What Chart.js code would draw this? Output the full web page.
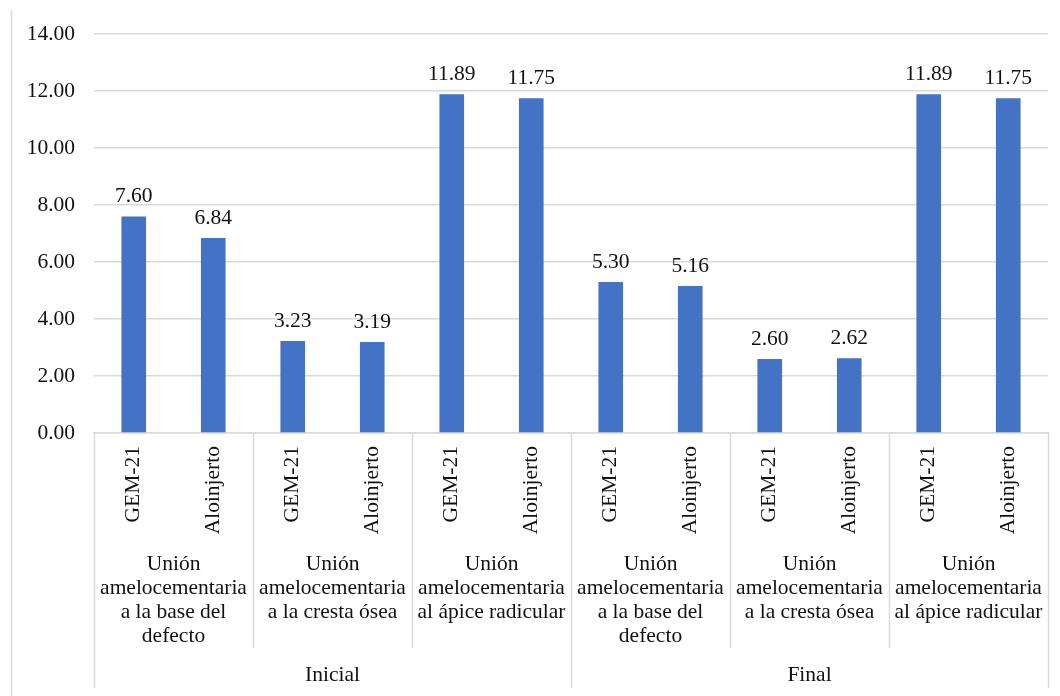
<!DOCTYPE html>
<html>
<head>
<meta charset="utf-8">
<script src="https://cdn.jsdelivr.net/npm/chart.js@4"></script>
<style>
	html, body { margin: 0; padding: 0; background: #fff; }
	#grafico { display: block; }
</style>
</head>
<body>
<canvas id="grafico" width="1060" height="696"></canvas>
<script>
// Datos
const materiales = ["GEM-21", "Aloinjerto", "GEM-21", "Aloinjerto", "GEM-21", "Aloinjerto",
	"GEM-21", "Aloinjerto", "GEM-21", "Aloinjerto", "GEM-21", "Aloinjerto"];
const medidas = [
	["Unión", "amelocementaria", "a la base del", "defecto"],
	["Unión", "amelocementaria", "a la cresta ósea"],
	["Unión", "amelocementaria", "al ápice radicular"],
	["Unión", "amelocementaria", "a la base del", "defecto"],
	["Unión", "amelocementaria", "a la cresta ósea"],
	["Unión", "amelocementaria", "al ápice radicular"],
];
const momentos = ["Inicial", "Final"];
const valores = [7.60, 6.84, 3.23, 3.19, 11.89, 11.75, 5.30, 5.16, 2.60, 2.62, 11.89, 11.75];
const ticksY = [0, 2, 4, 6, 8, 10, 12, 14];

const FUENTE = "\"Liberation Serif\", \"DejaVu Serif\", \"Times New Roman\", serif";
const TAM = 21.5;
const GRIS = "#d9d9d9";
const TEXTO = "#111";

let graficoElement = document.getElementById("grafico");

// Etiquetas de valor, eje x en varios niveles y separadores
const ejeMultinivel = {
	id: "ejeMultinivel",
	afterDatasetsDraw(chart) {
		let ctx = chart.ctx;
		let x = chart.scales.x;
		let area = chart.chartArea;
		let meta = chart.getDatasetMeta(0);
		let ancho = x.getPixelForValue(1) - x.getPixelForValue(0);

		ctx.save();
		ctx.fillStyle = TEXTO;
		ctx.font = TAM + "px " + FUENTE;

		// valores encima de las barras
		ctx.textAlign = "center";
		ctx.textBaseline = "alphabetic";
		meta.data.forEach((barra, i) => {
			ctx.fillText(valores[i].toFixed(2), barra.x, barra.y - 14);
		});

		// materiales en vertical
		materiales.forEach((m, i) => {
			ctx.save();
			ctx.translate(x.getPixelForValue(i), area.bottom + 13);
			ctx.rotate(-Math.PI / 2);
			ctx.textAlign = "right";
			ctx.textBaseline = "middle";
			ctx.fillText(m, 0, 0);
			ctx.restore();
		});

		// medidas
		ctx.textAlign = "center";
		ctx.textBaseline = "middle";
		medidas.forEach((lineas, g) => {
			let cx = (x.getPixelForValue(g * 2) + x.getPixelForValue(g * 2 + 1)) / 2;
			lineas.forEach((l, k) => ctx.fillText(l, cx, 564 + k * 24));
		});

		// momentos
		momentos.forEach((m, g) => {
			let cx = (x.getPixelForValue(g * 6) + x.getPixelForValue(g * 6 + 5)) / 2;
			ctx.fillText(m, cx, 675);
		});

		// separadores
		ctx.strokeStyle = GRIS;
		ctx.lineWidth = 1.5;
		for (let g = 0; g <= medidas.length; g++) {
			let sx = Math.round(x.getPixelForValue(g * 2) - ancho / 2) + 0.5;
			let fin = g % 3 === 0 ? 688 : 648;
			ctx.beginPath();
			ctx.moveTo(sx, area.bottom);
			ctx.lineTo(sx, fin);
			ctx.stroke();
		}

		// borde izquierdo
		ctx.beginPath();
		ctx.moveTo(11.5, 10);
		ctx.lineTo(11.5, 696);
		ctx.stroke();
		ctx.restore();
	}
};

new Chart(graficoElement, {
	type: "bar",
	data: {
		labels: materiales,
		datasets: [{
			data: valores,
			backgroundColor: "#4472c4",
			categoryPercentage: 1,
			barPercentage: 0.31,
		}]
	},
	options: {
		responsive: false,
		animation: false,
		layout: { padding: { top: 34, right: 12, left: 0, bottom: 0 } },
		plugins: {
			legend: { display: false },
			tooltip: { enabled: false },
		},
		scales: {
			x: {
				ticks: { display: false },
				grid: { display: false },
				border: { color: GRIS, width: 1.5 },
				afterFit(scale) { scale.height = 263; },
			},
			y: {
				min: 0,
				max: 14,
				afterBuildTicks(scale) { scale.ticks = ticksY.map(v => ({ value: v })); },
				ticks: {
					padding: 19,
					color: TEXTO,
					font: { family: FUENTE, size: TAM },
					callback: v => v.toFixed(2),
				},
				grid: { color: GRIS, lineWidth: 1.5, drawTicks: false },
				border: { display: false },
				afterFit(scale) { scale.width = 94; },
			}
		}
	},
	plugins: [ejeMultinivel]
});
</script>
</body>
</html>
